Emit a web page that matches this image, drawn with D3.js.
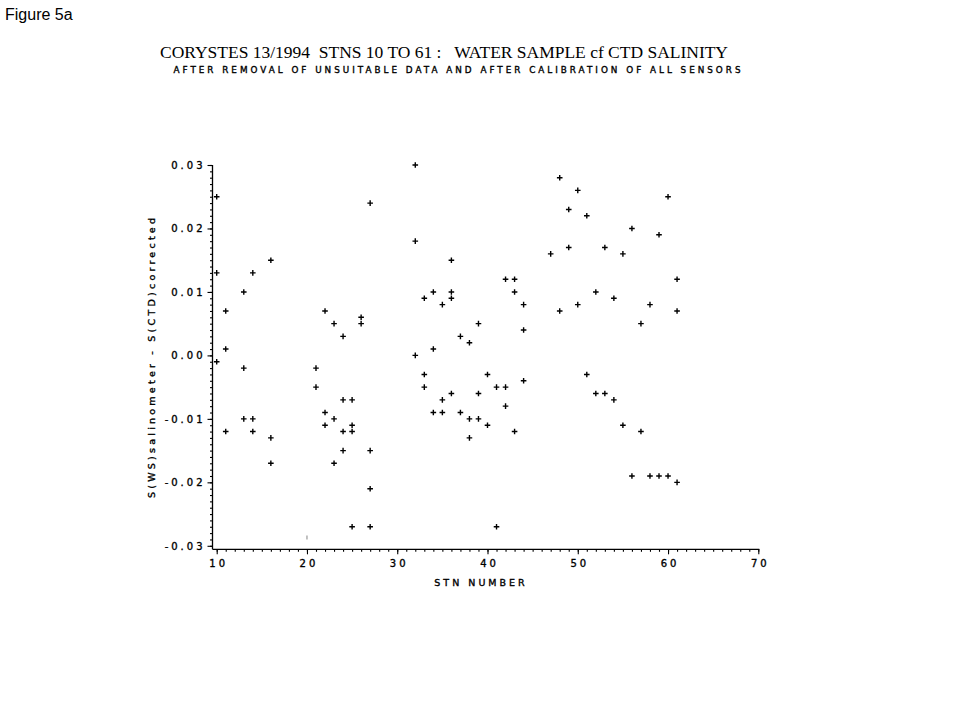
<!DOCTYPE html>
<html>
<head>
<meta charset="utf-8">
<script src="https://cdn.jsdelivr.net/npm/d3@7"></script>
<style>
  html, body { margin: 0; padding: 0; background: #fff; }
  svg { display: block; }
</style>
</head>
<body>
<svg id="chart" width="980" height="711"></svg>
<script>
// ---------------- data ----------------
const stations = [
  10, 10, 10,
  11, 11, 11,
  13, 13, 13,
  14, 14, 14,
  16, 16, 16,
  21, 21,
  22, 22, 22,
  23, 23, 23,
  24, 24, 24, 24,
  25, 25, 25, 25,
  26, 26,
  27, 27, 27, 27,
  32, 32, 32,
  33, 33, 33,
  34, 34, 34,
  35, 35, 35,
  36, 36, 36, 36,
  37, 37,
  38, 38, 38,
  39, 39, 39,
  40, 40,
  41, 41,
  42, 42, 42,
  43, 43, 43,
  44, 44, 44,
  47,
  48, 48,
  49, 49,
  50, 50,
  51, 51,
  52, 52,
  53, 53,
  54, 54,
  55, 55,
  56, 56,
  57, 57,
  58, 58,
  59, 59,
  60, 60,
  61, 61, 61
];
const salinityDiff = [
  0.025, 0.013, -0.001,
  0.007, 0.001, -0.012,
  0.010, -0.002, -0.010,
  0.013, -0.010, -0.012,
  0.015, -0.013, -0.017,
  -0.002, -0.005,
  0.007, -0.009, -0.011,
  0.005, -0.010, -0.017,
  0.003, -0.007, -0.012, -0.015,
  -0.007, -0.011, -0.012, -0.027,
  0.006, 0.005,
  0.024, -0.015, -0.021, -0.027,
  0.030, 0.018, 0.000,
  0.009, -0.003, -0.005,
  0.010, 0.001, -0.009,
  0.008, -0.007, -0.009,
  0.015, 0.010, 0.009, -0.006,
  0.003, -0.009,
  0.002, -0.010, -0.013,
  0.005, -0.006, -0.010,
  -0.003, -0.011,
  -0.005, -0.027,
  0.012, -0.005, -0.008,
  0.012, 0.010, -0.012,
  0.008, 0.004, -0.004,
  0.016,
  0.028, 0.007,
  0.023, 0.017,
  0.026, 0.008,
  0.022, -0.003,
  0.010, -0.006,
  0.017, -0.006,
  0.009, -0.007,
  0.016, -0.011,
  0.020, -0.019,
  0.005, -0.012,
  0.008, -0.019,
  0.019, -0.019,
  0.025, -0.019,
  0.012, 0.007, -0.020
];
// faint scanned mark near station 20
const faintStations = [20];
const faintDiff = [-0.0287];

const xTickValues = [10, 20, 30, 40, 50, 60, 70];
const yTickValues = [-0.03, -0.02, -0.01, 0.00, 0.01, 0.02, 0.03];
const yTickLabels = ["-0.03", "-0.02", "-0.01", "0.00", "0.01", "0.02", "0.03"];

const figureLabel = "Figure 5a";
const titleText = "CORYSTES 13/1994  STNS 10 TO 61 :   WATER SAMPLE cf CTD SALINITY";
const subtitleText = "AFTER REMOVAL OF UNSUITABLE DATA AND AFTER CALIBRATION OF ALL SENSORS";
const xLabel = "STN NUMBER";
const yLabel = "S(WS)salinometer - S(CTD)corrected";

// ---------------- layout ----------------
const svg = d3.select("#chart");
const x = d3.scaleLinear().domain([10, 70]).range([216.7, 758.3]);
const y = d3.scaleLinear().domain([-0.03, 0.03]).range([545.8, 165]);
const axisY = 549.3;   // x-axis line position
const axisX = 212.5;   // y-axis line position
const tickFont = "'DejaVu Sans', sans-serif";
const heavy = sel => sel.attr("stroke", "#000").attr("stroke-width", 0.35);

svg.append("text")
  .attr("x", 5).attr("y", 20)
  .attr("font-family", "'Liberation Sans', Arial, sans-serif")
  .attr("font-size", 16)
  .attr("fill", "#000")
  .text(figureLabel);

svg.append("text")
  .attr("x", 444).attr("y", 58)
  .attr("text-anchor", "middle")
  .attr("font-family", "'Liberation Serif', 'Times New Roman', serif")
  .attr("font-size", 17)
  .attr("textLength", 568)
  .attr("lengthAdjust", "spacingAndGlyphs")
  .attr("fill", "#000")
  .style("white-space", "pre")
  .text(titleText);

svg.append("text")
  .attr("x", 457).attr("y", 72.5)
  .attr("text-anchor", "middle")
  .attr("font-family", tickFont)
  .attr("font-size", 8.8)
  .attr("textLength", 567)
  .attr("lengthAdjust", "spacing")
  .attr("fill", "#000")
  .call(heavy)
  .text(subtitleText);

// ---------------- axes ----------------
const minorX = d3.range(10, 71, 1);
const minorY = d3.range(-30, 31, 1).map(v => v / 1000);

// x axis
const gx = svg.append("g").attr("transform", `translate(0,${axisY})`);
gx.call(d3.axisBottom(x).tickValues(minorX).tickSize(2.5).tickFormat(""));
gx.call(g => g.select(".domain").remove());
const gx2 = svg.append("g").attr("transform", `translate(0,${axisY})`);
gx2.call(d3.axisBottom(x).tickValues(xTickValues).tickSize(5).tickPadding(6)
  .tickFormat(d3.format("d")));
gx2.select(".domain").remove();
gx2.selectAll("text")
  .attr("font-family", tickFont)
  .attr("font-size", 10)
  .attr("fill", "#000")
  .attr("dx", "1.5")
  .call(heavy)
  .style("letter-spacing", "3px");
svg.append("line")
  .attr("x1", axisX).attr("x2", x(70) + 1)
  .attr("y1", axisY).attr("y2", axisY)
  .attr("stroke", "#000").attr("stroke-width", 1.3);

// y axis
const gy = svg.append("g").attr("transform", `translate(${axisX},0)`);
gy.call(d3.axisLeft(y).tickValues(minorY).tickSize(2.5).tickFormat(""));
gy.select(".domain").remove();
const gy2 = svg.append("g").attr("transform", `translate(${axisX},0)`);
gy2.call(d3.axisLeft(y).tickValues(yTickValues).tickSize(5).tickPadding(5)
  .tickFormat((d, i) => yTickLabels[i]));
gy2.select(".domain").remove();
gy2.selectAll("text")
  .attr("font-family", tickFont)
  .attr("font-size", 10)
  .attr("fill", "#000")
  .attr("dx", "3")
  .call(heavy)
  .style("letter-spacing", "3px");
svg.append("line")
  .attr("x1", axisX).attr("x2", axisX)
  .attr("y1", y(0.03)).attr("y2", axisY)
  .attr("stroke", "#000").attr("stroke-width", 1.3);

svg.selectAll(".tick line").attr("stroke", "#000").attr("stroke-width", 1.1);

// axis labels
svg.append("text")
  .attr("x", 481).attr("y", 586)
  .attr("text-anchor", "middle")
  .attr("font-family", tickFont)
  .attr("font-size", 9.5)
  .attr("fill", "#000")
  .call(heavy)
  .style("letter-spacing", "3px")
  .text(xLabel);

svg.append("text")
  .attr("transform", `translate(155,358) rotate(-90)`)
  .attr("text-anchor", "middle")
  .attr("font-family", tickFont)
  .attr("font-size", 9.5)
  .attr("textLength", 280)
  .attr("lengthAdjust", "spacing")
  .attr("fill", "#000")
  .call(heavy)
  .text(yLabel);

// ---------------- marks ----------------
const pts = stations.map((s, i) => ({ s, v: salinityDiff[i] }));
const r = 2.8;
const marks = svg.append("g");
marks.selectAll("path.pt")
  .data(pts)
  .join("path")
  .attr("class", "pt")
  .attr("d", d => {
    const cx = x(d.s), cy = y(d.v);
    return `M${cx - r},${cy}H${cx + r}M${cx},${cy - r}V${cy + r}`;
  })
  .attr("stroke", "#000")
  .attr("stroke-width", 1.4)
  .attr("fill", "none");

const faint = faintStations.map((s, i) => ({ s, v: faintDiff[i] }));
marks.selectAll("path.faint")
  .data(faint)
  .join("path")
  .attr("class", "faint")
  .attr("d", d => {
    const cx = x(d.s), cy = y(d.v);
    return `M${cx},${cy - 2}V${cy + 2}`;
  })
  .attr("stroke", "#999")
  .attr("stroke-width", 1.2);
</script>
</body>
</html>
